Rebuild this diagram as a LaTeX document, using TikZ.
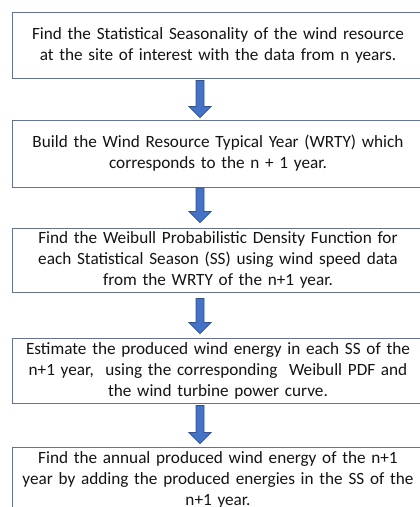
\documentclass[tikz,border=0pt]{standalone}
\usepackage{fontspec}
\setmainfont{Carlito}
\usetikzlibrary{calc}
\definecolor{boxline}{RGB}{100,115,145}
\definecolor{arrowfill}{RGB}{68,114,196}
\definecolor{arrowline}{RGB}{47,82,143}
\definecolor{txt}{RGB}{20,20,20}
\tikzset{
  stepbox/.style={draw=boxline, line width=0.9pt, fill=white, minimum width=412pt,
    text width=410pt, align=center, inner sep=0pt, text=txt,
    font=\fontsize{17.2}{21}\selectfont},
  blockarrow/.style={fill=arrowfill, draw=arrowline, line width=0.7pt, line join=miter,
    to path={let \p1=(\tikztostart), \p2=(\tikztotarget) in
      (\x1-4pt,\y1) -- (\x1+4pt,\y1) -- (\x1+4pt,\y2+11pt) -- (\x1+11pt,\y2+11pt)
      -- (\x1,\y2) -- (\x1-11pt,\y2+11pt) -- (\x1-4pt,\y2+11pt) -- cycle}}
}
\begin{document}
\begin{tikzpicture}[x=1pt,y=-1pt]
\useasboundingbox (0,0) rectangle (420,507);
\node[stepbox, minimum height=66.5pt] (b1) at (218,45.25)
  {Find the Statistical Seasonality of the wind resource\\at the site of interest with the data from n years.};
\node[stepbox, minimum height=67pt] (b2) at (218,153.5)
  {Build the Wind Resource Typical Year (WRTY) which\\corresponds to the n + 1 year.};
\node[stepbox, minimum height=64.5pt] (b3) at (218,260.25)
  {Find the Weibull Probabilistic Density Function for\\each Statistical Season (SS) using wind speed data\\from the WRTY of the n+1 year.};
\node[stepbox, minimum height=65pt] (b4) at (218,370.5)
  {Estimate the produced wind energy in each SS of the\\n+1 year,\ \ using the corresponding\ \ Weibull PDF and\\the wind turbine power curve.};
\node[stepbox, minimum height=65pt] (b5) at (218,479.5)
  {Find the annual produced wind energy of the n+1\\year by adding the produced energies in the SS of the\\n+1 year.};
\draw[blockarrow] ([xshift=-18pt,yshift=-1.5pt]b1.south) to ([xshift=-18pt,yshift=2pt]b2.north);
\draw[blockarrow] ([xshift=-18pt,yshift=-0.5pt]b2.south) to ([xshift=-18pt,yshift=5pt]b3.north);
\draw[blockarrow] ([xshift=-18pt,yshift=-5.5pt]b3.south) to ([xshift=-18pt,yshift=4pt]b4.north);
\draw[blockarrow] ([xshift=-18pt,yshift=-2pt]b4.south) to ([xshift=-18pt,yshift=3pt]b5.north);
\end{tikzpicture}
\end{document}
